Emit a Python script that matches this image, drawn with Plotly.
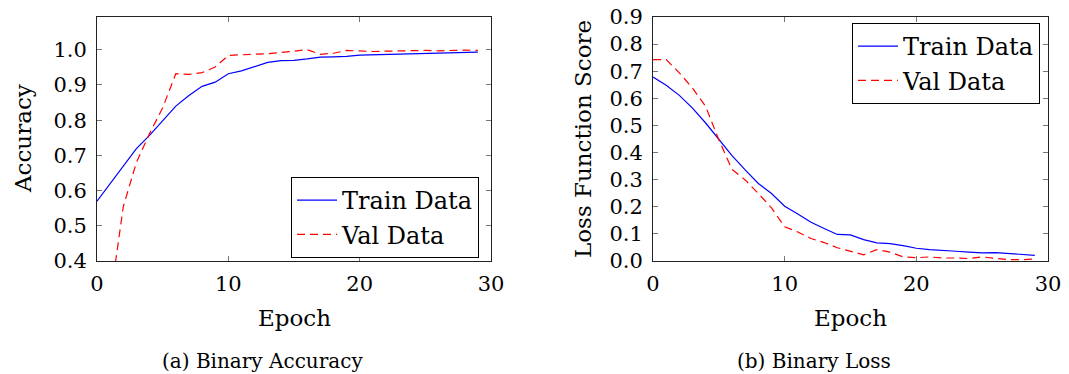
import plotly.graph_objects as go

epochs = list(range(30))

acc_train = [0.570, 0.620, 0.670, 0.719, 0.757, 0.800, 0.840, 0.870, 0.896, 0.908,
             0.932, 0.940, 0.952, 0.964, 0.969, 0.970, 0.974, 0.979, 0.980, 0.981,
             0.985, 0.986, 0.987, 0.988, 0.989, 0.990, 0.990, 0.991, 0.992, 0.993]
acc_val = [0.180, 0.288, 0.554, 0.680, 0.762, 0.835, 0.932, 0.930, 0.935, 0.951,
           0.984, 0.985, 0.987, 0.989, 0.992, 0.995, 1.000, 0.987, 0.990, 0.998,
           0.996, 0.995, 0.996, 0.997, 0.996, 0.998, 0.997, 0.999, 0.999, 0.998]

loss_train = [0.679, 0.648, 0.611, 0.564, 0.509, 0.449, 0.389, 0.336, 0.286, 0.249,
              0.202, 0.173, 0.143, 0.120, 0.098, 0.096, 0.079, 0.067, 0.064, 0.057,
              0.047, 0.042, 0.040, 0.036, 0.033, 0.030, 0.031, 0.027, 0.025, 0.021]
loss_val = [0.743, 0.743, 0.694, 0.638, 0.570, 0.447, 0.338, 0.299, 0.249, 0.196,
            0.126, 0.107, 0.083, 0.068, 0.049, 0.037, 0.023, 0.042, 0.033, 0.015,
            0.012, 0.015, 0.011, 0.011, 0.009, 0.015, 0.009, 0.005, 0.005, 0.007]

x_ticks = [0, 10, 20, 30]
acc_ticks = [0.4, 0.5, 0.6, 0.7, 0.8, 0.9, 1.0]
loss_ticks = [0.0, 0.1, 0.2, 0.3, 0.4, 0.5, 0.6, 0.7, 0.8, 0.9]

FONT = "DejaVu Serif"
W, H = 1069, 374
BLUE = "#0000ff"
RED = "#ff0000"

fig = go.Figure()
fig.add_trace(go.Scatter(x=epochs, y=acc_train, mode="lines", name="Train Data",
                         line=dict(color=BLUE, width=1.2), xaxis="x", yaxis="y",
                         legend="legend"))
fig.add_trace(go.Scatter(x=epochs, y=acc_val, mode="lines", name="Val Data",
                         line=dict(color=RED, width=1.2, dash="8px,5px"), xaxis="x", yaxis="y",
                         legend="legend"))
fig.add_trace(go.Scatter(x=epochs, y=loss_train, mode="lines", name="Train Data",
                         line=dict(color=BLUE, width=1.2), xaxis="x2", yaxis="y2",
                         legend="legend2"))
fig.add_trace(go.Scatter(x=epochs, y=loss_val, mode="lines", name="Val Data",
                         line=dict(color=RED, width=1.2, dash="8px,5px"), xaxis="x2", yaxis="y2",
                         legend="legend2"))

px = lambda v: v / W
py = lambda v: 1 - v / H

axis_common = dict(showline=True, linecolor="#222", linewidth=1, mirror="ticks",
                   ticks="inside", ticklen=5, tickwidth=1, tickcolor="#777",
                   showgrid=False, zeroline=False, automargin=False,
                   tickfont=dict(family=FONT, size=21, color="black"))

dom_y = [py(261), py(17)]
legend_style = dict(bgcolor="white", bordercolor="black", borderwidth=1,
                    itemwidth=40,
                    font=dict(family=FONT, size=24, color="black"))
fig.update_layout(
    width=W, height=H, margin=dict(l=0, r=0, t=0, b=0, autoexpand=False),
    paper_bgcolor="white", plot_bgcolor="white",
    font=dict(family=FONT, color="black"),
    xaxis=dict(domain=[px(97), px(491)], range=[0, 30], tickvals=x_ticks,
               anchor="y", ticklabelstandoff=4, **axis_common),
    yaxis=dict(domain=dom_y, range=[0.4, 1.093], tickvals=acc_ticks, tickformat=".1f",
               anchor="x", ticklabelstandoff=5, **axis_common),
    xaxis2=dict(domain=[px(653), px(1048)], range=[0, 30], tickvals=x_ticks,
                anchor="y2", ticklabelstandoff=4, **axis_common),
    yaxis2=dict(domain=dom_y, range=[0, 0.9], tickvals=loss_ticks, tickformat=".1f",
                anchor="x2", ticklabelstandoff=5, **axis_common),
    legend=dict(x=px(479), y=py(177), xanchor="right", yanchor="top", **legend_style),
    legend2=dict(x=px(1040), y=py(23), xanchor="right", yanchor="top", **legend_style),
    showlegend=True,
)

ann = [
    dict(text="Epoch", x=px(294), y=py(318), size=23, angle=0),
    dict(text="Epoch", x=px(850), y=py(318), size=23, angle=0),
    dict(text="Accuracy", x=px(23), y=py(139), size=23, angle=-90),
    dict(text="Loss Function Score", x=px(583), y=py(139), size=23, angle=-90),
    dict(text="(a) Binary Accuracy", x=px(262), y=py(361), size=20, angle=0),
    dict(text="(b) Binary Loss", x=px(814), y=py(361), size=20, angle=0),
]
for a in ann:
    fig.add_annotation(text=a["text"], x=a["x"], y=a["y"], xref="paper", yref="paper",
                       xanchor="center", yanchor="middle", showarrow=False,
                       textangle=a["angle"],
                       font=dict(family=FONT, size=a["size"], color="black"))

fig.write_html("out.html", config={"displayModeBar": False},
               post_script="document.body.style.margin='0';document.body.style.padding='0';")
